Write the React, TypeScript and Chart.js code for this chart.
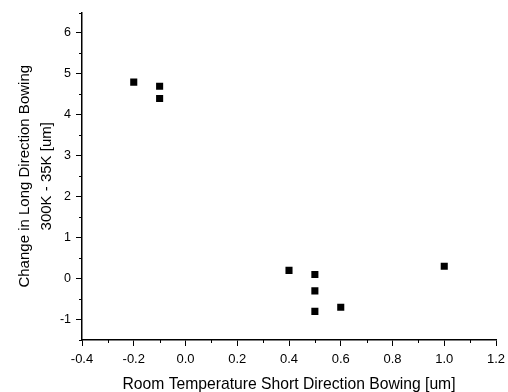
import React, { useEffect, useRef } from 'react';
import { Chart, registerables } from 'chart.js';

Chart.register(...registerables);

const xValues = [-0.2, -0.1, -0.1, 0.4, 0.5, 0.5, 0.5, 0.6, 1.0];
const yValues = [4.8, 4.7, 4.4, 0.2, 0.1, -0.3, -0.8, -0.7, 0.3];
const xMin = -0.4;
const xMax = 1.2;
const yMin = -1.5;
const yMax = 6.5;
const xTitle = 'Room Temperature Short Direction Bowing [um]';
const yTitle = ['Change in Long Direction Bowing', '300K - 35K [um]'];

const FONT = '"Liberation Sans", Arial, Helvetica, sans-serif';

const isXMajor = (v: number) => Math.abs(Math.round(v * 10)) % 2 === 0;
const isYMajor = (v: number) => Math.abs(v - Math.round(v)) < 1e-6;

const minorTicks = {
  id: 'minorTicks',
  afterDraw(chart: any) {
    const ctx = chart.ctx;
    const xs = chart.scales.x;
    const ys = chart.scales.y;
    ctx.save();
    ctx.strokeStyle = '#000';
    ctx.lineWidth = 1;
    ctx.beginPath();
    xs.ticks.forEach((t: any) => {
      if (!isXMajor(t.value)) {
        const px = Math.round(xs.getPixelForValue(t.value)) + 0.5;
        ctx.moveTo(px, xs.top);
        ctx.lineTo(px, xs.top + 3);
      }
    });
    ys.ticks.forEach((t: any) => {
      if (!isYMajor(t.value)) {
        const py = Math.round(ys.getPixelForValue(t.value)) + 0.5;
        ctx.moveTo(ys.right, py);
        ctx.lineTo(ys.right - 3, py);
      }
    });
    ctx.stroke();
    ctx.restore();
  },
};

export default function App() {
  const ref = useRef<HTMLCanvasElement | null>(null);

  useEffect(() => {
    document.body.style.margin = '0';
    if (!ref.current) return;
    const data = xValues.map((x, i) => ({ x, y: yValues[i] }));
    const chart = new Chart(ref.current, {
      type: 'scatter',
      data: {
        datasets: [
          {
            data,
            pointStyle: 'rect',
            pointRadius: 5,
            pointBackgroundColor: '#000',
            pointBorderColor: '#000',
            pointBorderWidth: 0,
          },
        ],
      },
      options: {
        animation: false,
        responsive: false,
        maintainAspectRatio: false,
        layout: { padding: { left: 0, top: 7, right: 12, bottom: 0 } },
        plugins: {
          legend: { display: false },
          tooltip: { enabled: false },
        },
        scales: {
          x: {
            type: 'linear',
            min: xMin,
            max: xMax,
            afterFit: (s: any) => {
              s.height = 52;
              s.paddingRight = 0;
              s.paddingLeft = 0;
            },
            ticks: {
              stepSize: 0.1,
              autoSkip: false,
              maxRotation: 0,
              padding: 6,
              color: '#000',
              font: { family: FONT, size: 13 },
              callback: (v: any) => (isXMajor(Number(v)) ? Number(v).toFixed(1) : ''),
            },
            grid: {
              drawOnChartArea: false,
              drawTicks: true,
              tickLength: 6,
              tickColor: (c: any) => (c.tick && isXMajor(c.tick.value) ? '#000' : 'rgba(0,0,0,0)'),
            },
            border: { display: true, color: '#000', width: 1.5 },
            title: {
              display: true,
              text: xTitle,
              color: '#000',
              font: { family: FONT, size: 15.7 },
              padding: { top: 0, bottom: -2 },
            },
          },
          y: {
            type: 'linear',
            min: yMin,
            max: yMax,
            afterFit: (s: any) => {
              s.width = 82;
            },
            ticks: {
              stepSize: 0.5,
              autoSkip: false,
              padding: 5,
              color: '#000',
              font: { family: FONT, size: 12.5 },
              callback: (v: any) => (isYMajor(Number(v)) && Number(v) > yMin && Number(v) < yMax ? String(Math.round(Number(v))) : ''),
            },
            grid: {
              drawOnChartArea: false,
              drawTicks: true,
              tickLength: 6,
              tickColor: (c: any) => (c.tick && isYMajor(c.tick.value) ? '#000' : 'rgba(0,0,0,0)'),
            },
            border: { display: true, color: '#000', width: 1.5 },
            title: {
              display: true,
              text: yTitle,
              color: '#000',
              font: { family: FONT, size: 15, lineHeight: 1.45 },
              padding: { top: 14, bottom: 0 },
            },
          },
        },
      },
      plugins: [minorTicks],
    });
    return () => chart.destroy();
  }, []);

  return (
    <div style={{ width: 508, height: 392, background: '#fff' }}>
      <canvas ref={ref} width={508} height={392} style={{ display: 'block' }} />
    </div>
  );
}
